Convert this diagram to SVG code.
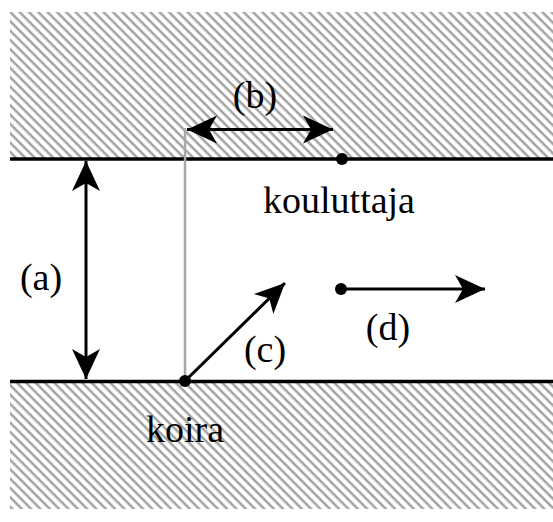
<svg xmlns="http://www.w3.org/2000/svg" width="553" height="522" viewBox="0 0 553 522">
<defs>
<pattern id="hatch" patternUnits="userSpaceOnUse" width="6.6" height="6.6" patternTransform="rotate(45)">
<rect x="0" y="0" width="6.6" height="2.5" fill="#a4a4a4"/>
</pattern>
<marker id="ah" markerUnits="userSpaceOnUse" viewBox="-30 -15 32 30" refX="0" refY="0" markerWidth="32" markerHeight="30" orient="auto-start-reverse">
<path d="M0,0 L-30,-14 L-22,0 L-30,14 Z" fill="#000"/>
</marker>
<style>
.lbl{font-family:"Liberation Serif","Times New Roman",serif;font-size:38px;fill:#000;text-anchor:middle}
.wall{stroke:#000;stroke-width:3.5;fill:none}
.arr{stroke:#000;stroke-width:3;fill:none}
</style>
</defs>
<rect width="553" height="522" fill="#fff"/>
<g id="walls">
<rect x="10" y="12" width="543" height="146" fill="url(#hatch)"/>
<rect x="10" y="383" width="543" height="126" fill="url(#hatch)"/>
<line class="wall" x1="10" y1="159" x2="553" y2="159"/>
<line class="wall" x1="10" y1="381.5" x2="553" y2="381.5"/>
</g>
<g id="connectors">
<line x1="185" y1="381" x2="185" y2="128" stroke="#a8a8a8" stroke-width="2.5"/>
<line class="arr" x1="86" y1="161" x2="86" y2="379" marker-start="url(#ah)" marker-end="url(#ah)"/>
<line class="arr" x1="187" y1="129.5" x2="333" y2="129.5" marker-start="url(#ah)" marker-end="url(#ah)"/>
<line class="arr" x1="185" y1="381" x2="285" y2="283" marker-end="url(#ah)"/>
<line class="arr" x1="341" y1="289" x2="485" y2="289" marker-end="url(#ah)"/>
</g>
<g id="kouluttaja">
<circle cx="342" cy="159" r="6" fill="#000"/>
<text class="lbl" x="339" y="213">kouluttaja</text>
</g>
<g id="koira">
<circle cx="185" cy="381" r="6" fill="#000"/>
<text class="lbl" x="185" y="442">koira</text>
</g>
<g id="trainer-move">
<circle cx="341" cy="289" r="6" fill="#000"/>
</g>
<g id="labels">
<text class="lbl" x="41" y="290">(a)</text>
<text class="lbl" x="255" y="108">(b)</text>
<text class="lbl" x="265" y="362">(c)</text>
<text class="lbl" x="388" y="340">(d)</text>
</g>
</svg>
